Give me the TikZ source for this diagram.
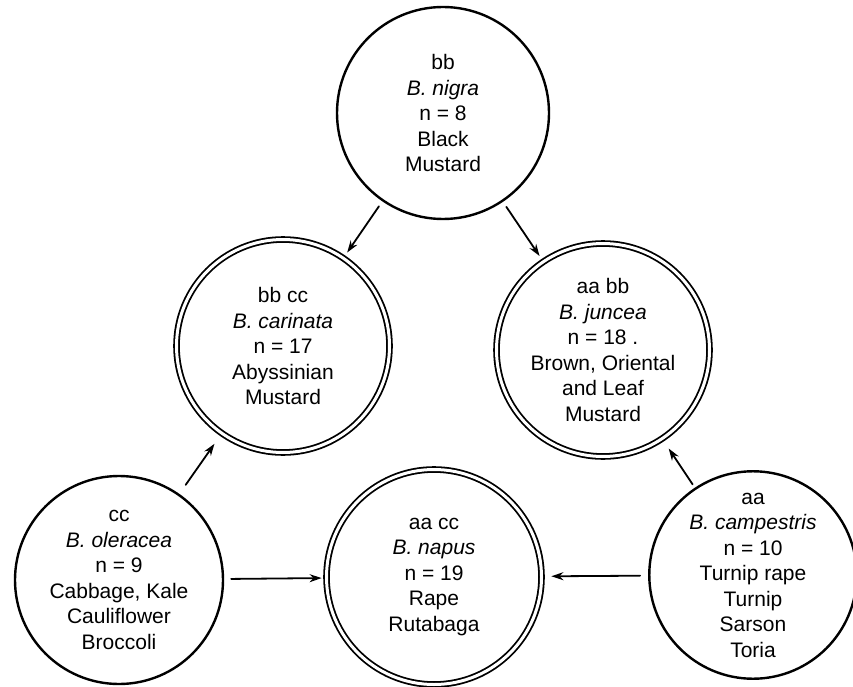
\documentclass[tikz,border=0pt]{standalone}
\usepackage{fontspec}
\setmainfont{Liberation Sans}
\usetikzlibrary{arrows.meta}

\begin{document}
\begin{tikzpicture}[line cap=round,line join=round,x=1pt,y=-1pt,
  species/.style={circle,draw,line width=2.4pt,inner sep=0pt,align=center,
    font=\fontsize{21}{25.5}\selectfont},
  hybrid/.style={species,double,double distance=3pt,line width=1.8pt},
  cross/.style={-{Stealth[length=12pt,width=8pt]},line width=1.8pt,shorten <=6pt,shorten >=6pt}]
\useasboundingbox (0,0) rectangle (853,687);
% diploid species
\node[species,minimum size=212pt] (nigra) at (443,113) {bb\\\textit{B. nigra}\\n = 8\\Black\\Mustard};
\node[species,minimum size=208pt] (oleracea) at (119,580) {cc\\\textit{B. oleracea}\\n = 9\\Cabbage, Kale\\Cauliflower\\Broccoli};
\node[species,minimum size=204pt] (campestris) at (753,575) {aa\\\textit{B. campestris}\\n = 10\\Turnip rape\\Turnip\\Sarson\\Toria};
% amphidiploids
\node[hybrid,minimum size=213pt] (carinata) at (283,346) {bb cc\\\textit{B. carinata}\\n = 17\\Abyssinian\\Mustard};
\node[hybrid,minimum size=213pt] (juncea) at (603,350) {aa bb\\\textit{B. juncea}\\n = 18 .\\Brown, Oriental\\and Leaf\\Mustard};
\node[hybrid,minimum size=215pt] (napus) at (434,577) {aa cc\\\textit{B. napus}\\n = 19\\Rape\\Rutabaga};
% crosses
\draw[cross] (nigra) -- (carinata);
\draw[cross] (nigra) -- (juncea);
\draw[cross,shorten <=11pt,shorten >=12pt] (oleracea) -- (carinata);
\draw[cross,shorten <=7pt,shorten >=4pt] (oleracea) -- (napus);
\draw[cross,shorten <=8pt,shorten >=9pt] (campestris) -- (napus);
\draw[cross,shorten <=4pt,shorten >=11pt] (campestris) -- (juncea);
\end{tikzpicture}
\end{document}
